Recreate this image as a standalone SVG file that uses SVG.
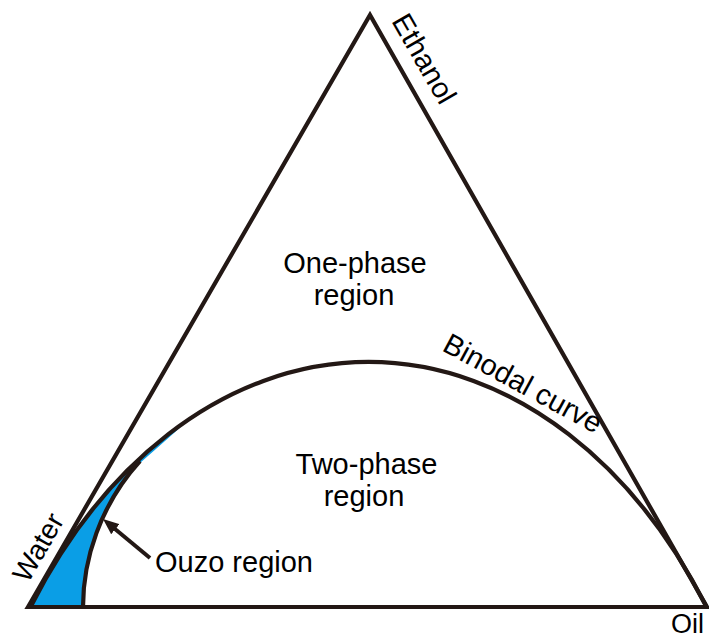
<svg xmlns="http://www.w3.org/2000/svg" width="709" height="640" viewBox="0 0 709 640">
<style>
.ln{fill:none;stroke:#231815;stroke-width:4.2;stroke-linejoin:miter;stroke-miterlimit:10}
.t{font-family:"Liberation Sans",Arial,sans-serif;font-size:29px;fill:#000}
.c{text-anchor:middle}
</style>
<defs>
<marker id="ah" markerUnits="userSpaceOnUse" viewBox="0 0 16 13" refX="8.2" refY="6.5" markerWidth="16" markerHeight="13" orient="auto">
<path d="M0,0 L16,6.5 L0,13 Z" fill="#231815"/>
</marker>
</defs>
<rect width="709" height="640" fill="#fff"/>
<g id="ouzo-region">
<path d="M 31 606 A 414 580 0 0 1 190.5 418.3 Q 163 443 140 463 C 100 505 83 560 83 607 Z" fill="#0a9ee6"/>
<path class="ln" d="M 83 607 C 83 560 100 505 140 461"/>
</g>
<g id="triangle">
<path class="ln" d="M 28 607 L 370 15 L 707 607 Z"/>
</g>
<g id="binodal">
<path class="ln" d="M 31 606 A 414 580 0 0 1 706 606"/>
</g>
<g id="labels">
<text class="t" transform="translate(391,21) rotate(60)">Ethanol</text>
<text class="t" transform="translate(28,584) rotate(-60)" style="font-size:28px">Water</text>
<text class="t" x="671" y="633" style="font-size:27px">Oil</text>
<text class="t" transform="translate(441,350) rotate(28.5)">Binodal curve</text>
<text class="t c" x="355" y="273">One-phase</text>
<text class="t c" x="354" y="305">region</text>
<text class="t c" x="366.5" y="474">Two-phase</text>
<text class="t c" x="364" y="506">region</text>
<text class="t" x="155" y="572">Ouzo region</text>
</g>
<g id="connectors">
<path d="M 150 558 L 109 524" fill="none" stroke="#231815" stroke-width="4" marker-end="url(#ah)"/>
</g>
</svg>
